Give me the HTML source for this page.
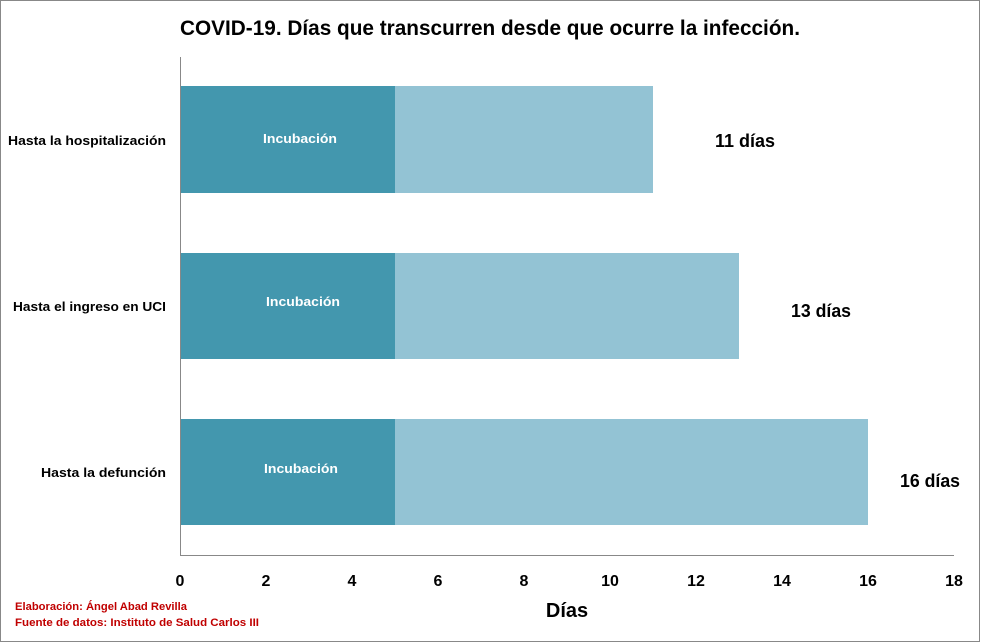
<!DOCTYPE html>
<html><head><meta charset="utf-8"><style>
html,body{margin:0;padding:0;background:#fff}
svg{display:block}
text{font-family:"Liberation Sans",sans-serif;font-weight:bold}
</style></head><body>
<svg width="981" height="643" viewBox="0 0 981 643">
<rect x="0.5" y="0.5" width="979" height="641" fill="#fff" stroke="#888" stroke-width="1"/>
<text x="180" y="35" font-size="21" fill="#000" textLength="620" lengthAdjust="spacingAndGlyphs">COVID-19. Días que transcurren desde que ocurre la infección.</text>
<line x1="180.5" y1="57" x2="180.5" y2="556" stroke="#888"/>
<line x1="180" y1="555.5" x2="954" y2="555.5" stroke="#888"/>
<g>
<rect x="181" y="86" width="214" height="107" fill="#4397AE"/>
<rect x="395" y="86" width="258" height="107" fill="#93C3D4"/>
<rect x="181" y="253" width="214" height="106" fill="#4397AE"/>
<rect x="395" y="253" width="344" height="106" fill="#93C3D4"/>
<rect x="181" y="419" width="214" height="106" fill="#4397AE"/>
<rect x="395" y="419" width="473" height="106" fill="#93C3D4"/>
</g>
<g font-size="13" fill="#fff" text-anchor="middle">
<text x="300" y="143" textLength="74" lengthAdjust="spacingAndGlyphs">Incubación</text>
<text x="303" y="306" textLength="74" lengthAdjust="spacingAndGlyphs">Incubación</text>
<text x="301" y="473" textLength="74" lengthAdjust="spacingAndGlyphs">Incubación</text>
</g>
<g font-size="18" fill="#000">
<text x="715" y="147" textLength="60" lengthAdjust="spacingAndGlyphs">11 días</text>
<text x="791" y="317" textLength="60" lengthAdjust="spacingAndGlyphs">13 días</text>
<text x="900" y="487" textLength="60" lengthAdjust="spacingAndGlyphs">16 días</text>
</g>
<g font-size="13" fill="#000" text-anchor="end">
<text x="166" y="145" textLength="158" lengthAdjust="spacingAndGlyphs">Hasta la hospitalización</text>
<text x="166" y="311" textLength="153" lengthAdjust="spacingAndGlyphs">Hasta el ingreso en UCI</text>
<text x="166" y="477" textLength="125" lengthAdjust="spacingAndGlyphs">Hasta la defunción</text>
</g>
<g font-size="16" fill="#000" text-anchor="middle">
<text x="180" y="586">0</text><text x="266" y="586">2</text><text x="352" y="586">4</text>
<text x="438" y="586">6</text><text x="524" y="586">8</text><text x="610" y="586">10</text>
<text x="696" y="586">12</text><text x="782" y="586">14</text><text x="868" y="586">16</text>
<text x="954" y="586">18</text>
</g>
<text x="567" y="617" font-size="20" fill="#000" text-anchor="middle">Días</text>
<g font-size="11" fill="#c00000">
<text x="15" y="610" textLength="172" lengthAdjust="spacingAndGlyphs">Elaboración:  Ángel Abad Revilla</text>
<text x="15" y="626" textLength="244" lengthAdjust="spacingAndGlyphs">Fuente de datos: Instituto de Salud  Carlos III</text>
</g>
</svg>
</body></html>
